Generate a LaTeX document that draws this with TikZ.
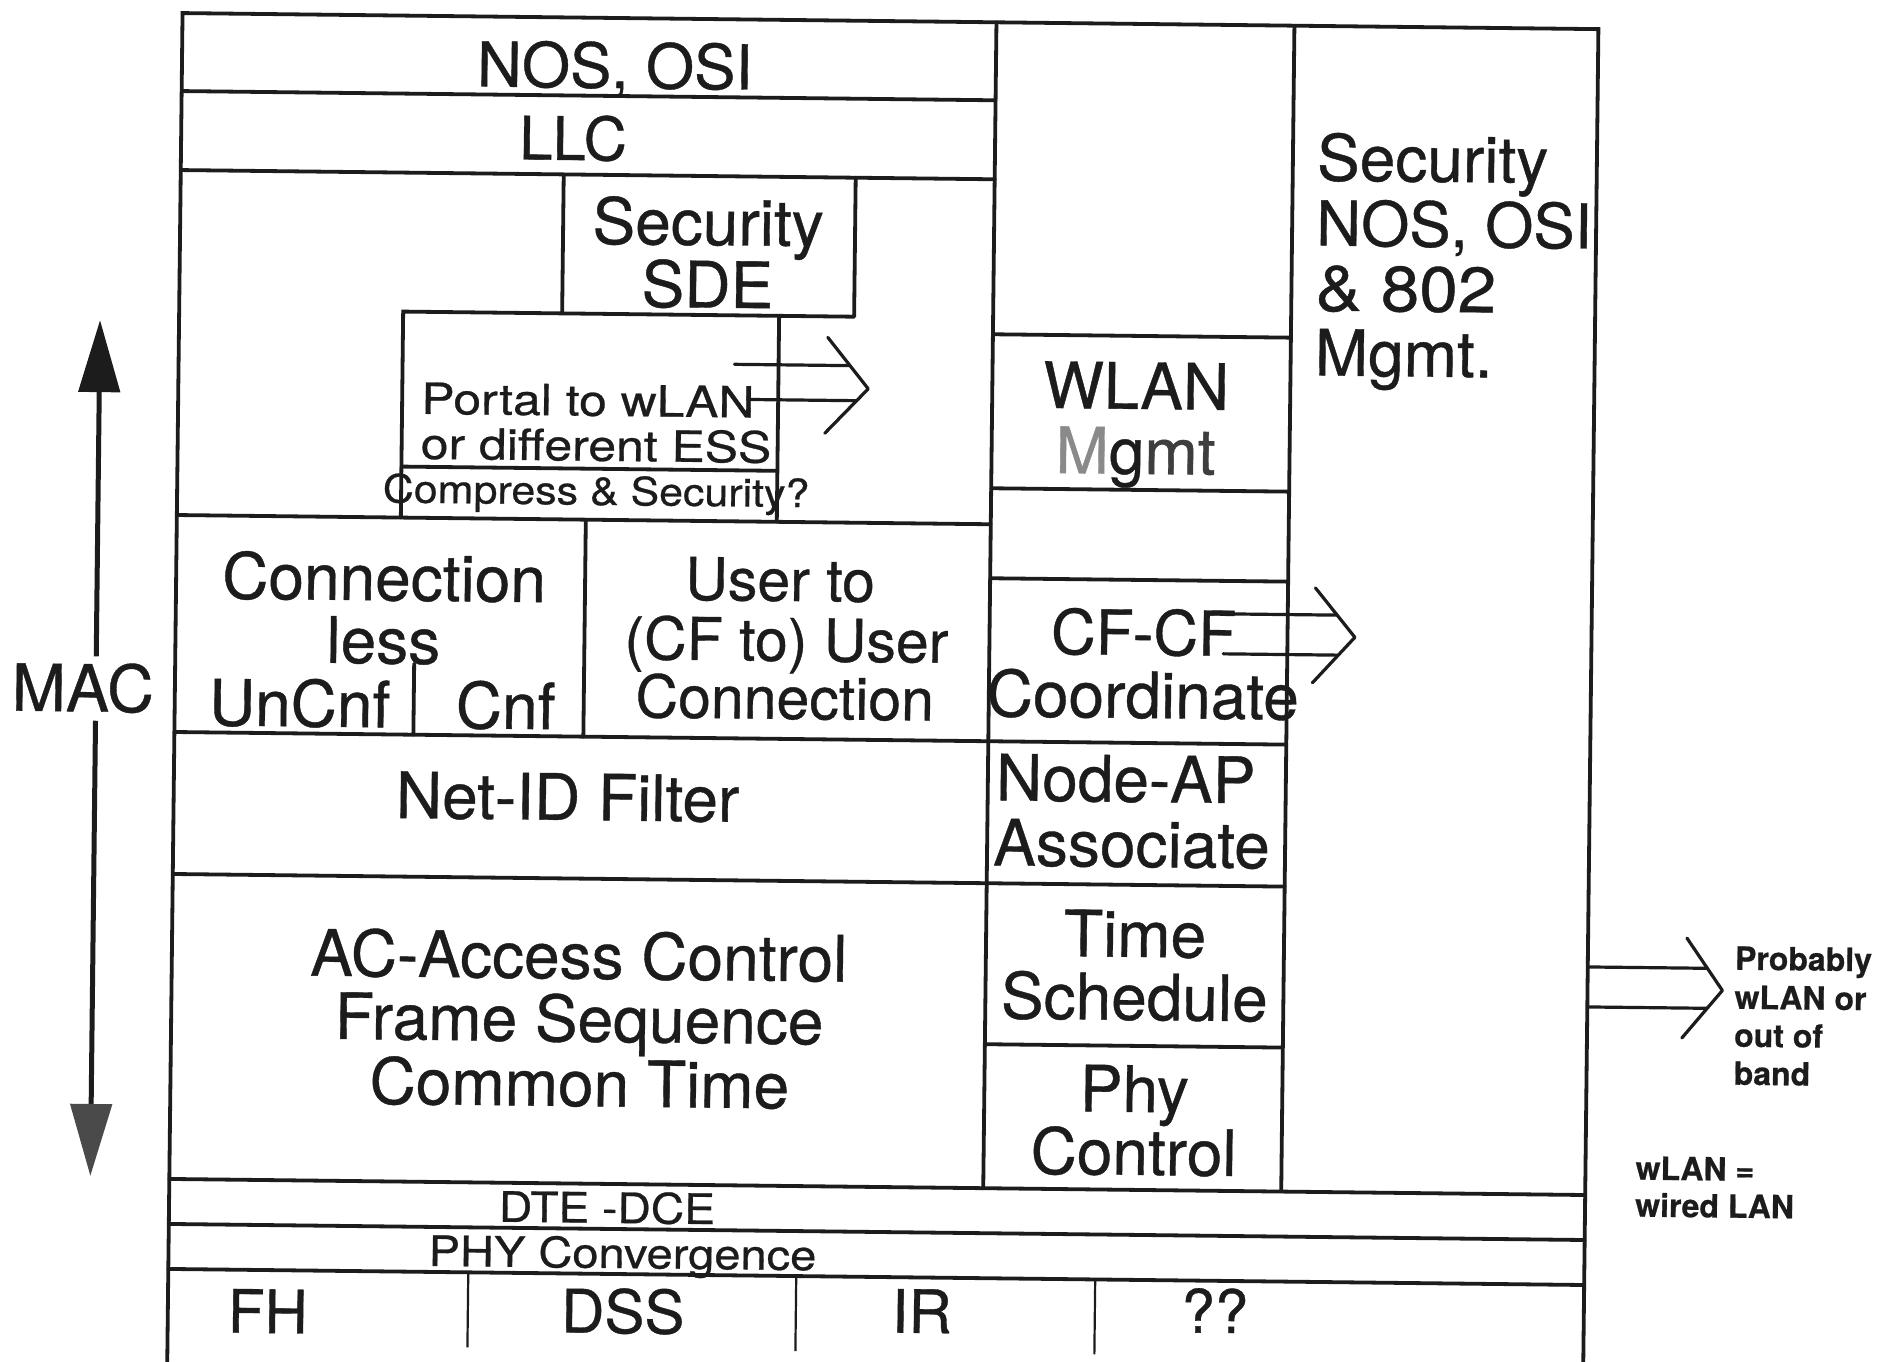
\documentclass[tikz,border=0pt]{standalone}
\usepackage{fontspec}
\setmainfont{TeX Gyre Heros}[FakeBold=0.6]
\usepackage{graphicx}
\usetikzlibrary{arrows.meta}
\definecolor{ink}{HTML}{1C1C1C}
\definecolor{mgray}{HTML}{8A8A8A}
\definecolor{headgray}{HTML}{4A4A4A}
\newcommand{\fsz}[1]{\fontsize{#1}{#1}\selectfont}
\newcommand{\wide}[2]{\scalebox{#1}[1]{#2}}
\begin{document}
\begin{tikzpicture}[x=1pt,y=-1pt,
  rule/.style={draw=ink, line width=3.8pt, line cap=round},
  thinrule/.style={draw=ink, line width=2.2pt},
  chev/.style={draw=ink, line width=3.2pt, line cap=round, line join=round},
  txt/.style={inner sep=0pt, text=ink, anchor=base},
  t64/.style={txt, font=\fsz{64}},
  t62/.style={txt, font=\fsz{62}},
  t60/.style={txt, font=\fsz{60}},
  t59/.style={txt, font=\fsz{59}},
  t43/.style={txt, font=\fsz{43}},
  t42/.style={txt, font=\fsz{42}},
  t39/.style={txt, font=\fsz{39}},
  note/.style={txt, anchor=base west, font=\fsz{32}\bfseries},
  macline/.style={draw=ink, line width=5pt},
]
\fill[white] (0,0) rectangle (1891,1362);
\useasboundingbox (0,0) rectangle (1891,1362);

\begin{scope}[rotate around={-0.65:(880,680)}, transform shape]

% ---------- frame and columns ----------
\draw[rule] (175,1375) -- (175,21) -- (1591,21) -- (1591,1375);
\draw[rule] (989,21) -- (989,1187);
\draw[rule] (1287,21) -- (1287,1187);

% ---------- left block ----------
\draw[rule] (175,99) -- (989,99);
\draw[rule] (175,178) -- (989,178);
\draw[rule] (558,178) -- (558,317);
\draw[rule] (850,178) -- (850,317);
\draw[rule] (399,523) -- (399,317) -- (850,317);
\draw[rule] (775,317) -- (775,523);
\draw[rule] (399,472) -- (775,472);
\draw[rule] (175,523) -- (989,523);
\draw[rule] (584,523) -- (584,740);
\draw[rule] (414,669) -- (414,740);
\draw[rule] (175,740) -- (1287,740);
\draw[rule] (175,882) -- (1287,882);

% ---------- middle column ----------
\draw[rule] (989,333) -- (1287,333);
\draw[rule] (989,487) -- (1287,487);
\draw[rule] (989,577) -- (1287,577);
\draw[rule] (989,1043) -- (1287,1043);

% ---------- PHY layers ----------
\draw[rule] (175,1187) -- (1591,1187);
\draw[rule] (175,1232) -- (1591,1232);
\draw[rule] (175,1277) -- (1591,1277);
\draw[thinrule] (475,1277) -- (475,1352);
\draw[thinrule] (803,1277) -- (803,1352);
\draw[thinrule] (1102,1277) -- (1102,1352);

% ---------- texts, left block ----------
\node[t62] (nos) at (608,91) {NOS, OSI};
\node[t60] (llc) at (567,163.5) {LLC};
\node[t64] (sec1) at (703,247) {Security};
\node[t64] (sec2) at (703,309.5) {SDE};
\node[t43, anchor=base west] (por1) at (418,419) {\wide{1.16}{Portal to wLAN}};
\node[t43, anchor=base west] (por2) at (418,464) {\wide{1.16}{or different ESS}};
\node[t39] (cmp) at (594,508) {\wide{1.1}{Compress \& Security?}};
\node[t64] (con1) at (383,606) {Connection};
\node[t64] (con2) at (383,669) {less};
\node[t64] (uncnf) at (300,733) {UnCnf};
\node[t64] (cnf) at (506,733) {Cnf};
\node[t59] (usr1) at (779,602) {User to};
\node[t59] (usr2) at (786,662) {(CF to) User};
\node[t59] (usr3) at (785,720) {Connection};
\node[t64] (net) at (569,823.5) {Net-ID Filter};
\node[t64] (ac1) at (582,982) {AC-Access Control};
\node[t64] (ac2) at (583,1045) {Frame Sequence};
\node[t64] (ac3) at (584,1109.5) {Common Time};

% ---------- texts, middle column ----------
\node[t64] (wl1) at (1133,406) {WLAN};
\node[t64] (wl2) at (1133,471) {{\color{mgray}M}g{\color{ink!85}mt}};
\node[t62] (cf1) at (1143,652) {CF-CF};
\node[t64] (cf2) at (1143,715) {Coordinate};
\node[t64, anchor=base west] (nap1) at (997,799) {Node-AP};
\node[t64, anchor=base west] (nap2) at (995,864) {Associate};
\node[t64] (ts1) at (1138,954) {Time};
\node[t64] (ts2) at (1138,1017) {Schedule};
\node[t64] (pc1) at (1139,1109) {Phy};
\node[t64] (pc2) at (1139,1172) {Control};

% ---------- texts, right column ----------
\node[t64, anchor=base west] (rs1) at (1311,175.5) {Security};
\node[t62, anchor=base west] (rs2) at (1311,240.5) {NOS, OSI};
\node[t64, anchor=base west] (rs3) at (1311,305.5) {\wide{1.08}{\& 802}};
\node[t64, anchor=base west] (rs4) at (1311,370.5) {Mgmt.};

% ---------- PHY texts ----------
\node[t42] (dte) at (613,1226) {\wide{1.1}{DTE -DCE}};
\node[t42] (phyc) at (629,1271) {\wide{1.12}{PHY Convergence}};
\node[t60] (fh) at (275,1340) {FH};
\node[t60] (dss) at (630,1336) {DSS};
\node[t60] (ir) at (929,1332.5) {IR};
\node[t60] (qq) at (1222,1329) {??};

% ---------- notes on the right ----------
\node[note] (pr1) at (1738,960) {Probably};
\node[note] (pr2) at (1738,999) {wLAN or};
\node[note] (pr3) at (1738,1037) {out of};
\node[note] (pr4) at (1738,1075) {band};
\node[note] (wd1) at (1641,1171) {wLAN =};
\node[note] (wd2) at (1641,1208) {wired LAN};

% ---------- MAC arrow ----------
\node[txt, font=\fsz{65}, text height=46pt, text depth=0pt, inner sep=9pt] (mac) at (83,720.5) {MAC};
\coordinate (mtop) at (96,329);
\coordinate (mbot) at (96,1185);
\draw[macline, -{Triangle[length=72pt,width=41pt]}] (mac.north -| mtop) -- (mtop);
\draw[macline, -{Triangle[length=72pt,width=41pt,color=headgray]}] (mac.south -| mbot) -- (mbot);

% ---------- open double arrows ----------
% portal arrow
\coordinate (pa1s) at (731,366);
\coordinate (pa1e) at (846.5,366);
\coordinate (pa2s) at (745,401);
\coordinate (pa2e) at (853.5,401);
\coordinate (paT) at (824,338);
\coordinate (paP) at (865,389);
\coordinate (paB) at (822,434);
\draw[chev] (pa1s) -- (pa1e);
\draw[chev] (pa2s) -- (pa2e);
\draw[chev] (paT) -- (paP) -- (paB);
% CF-CF arrow
\coordinate (ca1s) at (1231,610);
\coordinate (ca1e) at (1336.5,610);
\coordinate (ca2s) at (1223,650);
\coordinate (ca2e) at (1338,650);
\coordinate (caT) at (1314.5,583);
\coordinate (caP) at (1354.5,632);
\coordinate (caB) at (1312.5,678);
\draw[chev] (ca1s) -- (ca1e);
\draw[chev] (ca2s) -- (ca2e);
\draw[chev] (caT) -- (caP) -- (caB);
% probably arrow
\coordinate (ra1s) at (1591,959);
\coordinate (ra1e) at (1710.8,959);
\coordinate (ra2s) at (1591,999);
\coordinate (ra2e) at (1711,999);
\coordinate (raT) at (1690,929);
\coordinate (raP) at (1726,981);
\coordinate (raB) at (1686,1029);
\draw[chev] (ra1s) -- (ra1e);
\draw[chev] (ra2s) -- (ra2e);
\draw[chev] (raT) -- (raP) -- (raB);

\end{scope}
\end{tikzpicture}
\end{document}
